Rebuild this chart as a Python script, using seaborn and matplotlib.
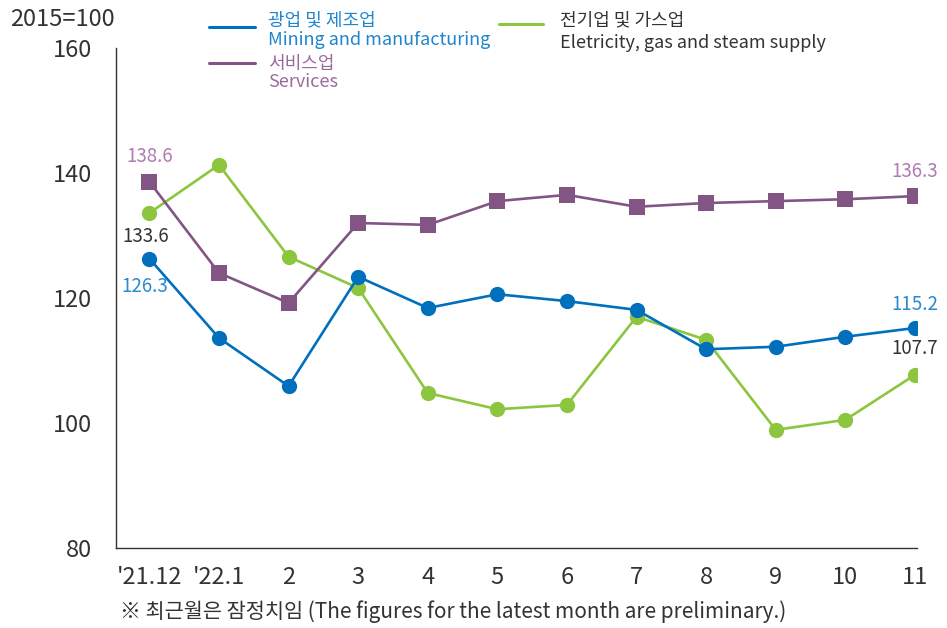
import numpy as np
import pandas as pd
import seaborn as sns
import matplotlib
matplotlib.use("Agg")
from matplotlib import pyplot as plt
from matplotlib.lines import Line2D

months = ["'21.12", "'22.1", "2", "3", "4", "5", "6", "7", "8", "9", "10", "11"]
mining = [126.3, 113.6, 105.9, 123.4, 118.4, 120.6, 119.5, 118.1, 111.8, 112.2, 113.8, 115.2]
electricity = [133.6, 141.3, 126.6, 121.6, 104.8, 102.2, 102.9, 117.0, 113.3, 98.9, 100.5, 107.7]
services = [138.6, 124.0, 119.2, 132.0, 131.7, 135.5, 136.5, 134.6, 135.2, 135.5, 135.8, 136.3]

BLUE = "#0070BD"
GREEN = "#8CC63E"
PURPLE = "#835585"
DARK = "#333333"

sns.set_style("white")
plt.rcParams['font.family'] = ['Noto Sans CJK KR', 'DejaVu Sans']

df = pd.DataFrame({
    "idx": list(range(len(months))) * 3,
    "value": electricity + services + mining,
    "series": ["electricity"] * 12 + ["services"] * 12 + ["mining"] * 12,
})

fig = plt.figure(figsize=(9.47, 6.28), dpi=100)
ax = fig.add_axes([116 / 947, 1 - 548 / 628, (917 - 116) / 947, 500 / 628])

sns.lineplot(data=df, x="idx", y="value", hue="series", style="series",
             hue_order=["electricity", "services", "mining"],
             style_order=["electricity", "services", "mining"],
             palette={"electricity": GREEN, "services": PURPLE, "mining": BLUE},
             markers={"electricity": "o", "services": "s", "mining": "o"},
             dashes=False, linewidth=1.9, markersize=11, markeredgewidth=0,
             legend=False, ax=ax)

ax.set_xlim(-0.48, 11.03)
ax.set_ylim(80, 160)
ax.set_yticks([80, 100, 120, 140, 160])
ax.set_xticks(range(len(months)))
ax.set_xticklabels(months)
ax.set_xlabel("")
ax.set_ylabel("")
for s in ["top", "right"]:
    ax.spines[s].set_visible(False)
for s in ["left", "bottom"]:
    ax.spines[s].set_color(DARK)
    ax.spines[s].set_linewidth(1.0)
ax.tick_params(axis="x", direction="in", length=8, width=1, color=DARK,
               labelsize=17, labelcolor=DARK, pad=13)
ax.tick_params(axis="y", direction="in", length=10, width=1, color=DARK,
               labelsize=17, labelcolor=DARK, pad=17)

# value labels
def lab(i, v, text, color, dx, dy):
    ax.annotate(text, (i, v), xytext=(dx, dy), textcoords="offset points",
                ha="center", va="center", fontsize=13.5, color=color)

lab(0, services[0], f"{services[0]:.1f}", "#B07AB2", 0, 18)
lab(0, electricity[0], f"{electricity[0]:.1f}", DARK, -3, -17)
lab(0, mining[0], f"{mining[0]:.1f}", "#2A8AD0", -3, -20)
lab(11, services[-1], f"{services[-1]:.1f}", "#B07AB2", 0, 18)
lab(11, mining[-1], f"{mining[-1]:.1f}", "#2A8AD0", 0, 17)
lab(11, electricity[-1], f"{electricity[-1]:.1f}", DARK, 0, 19)

# header and legend
fig.text(10 / 947, 1 - 19 / 628, "2015=100", fontsize=17, color=DARK, va="center")

def leg(x0, x1, y, color, tx, ko, en, tcolor, ky, ey):
    fig.add_artist(Line2D([x0 / 947, x1 / 947], [1 - y / 628, 1 - y / 628],
                          color=color, linewidth=2.2))
    fig.text(tx / 947, 1 - ky / 628, ko, fontsize=13, color=tcolor, va="center")
    fig.text(tx / 947, 1 - ey / 628, en, fontsize=13, color=tcolor, va="center")

leg(209, 255, 27, BLUE, 268, "광업 및 제조업", "Mining and manufacturing", "#1F86CE", 20, 40)
leg(209, 255, 63, PURPLE, 268, "서비스업", "Services", "#9B6A9D", 64, 82)
leg(499, 543, 24, GREEN, 560, "전기업 및 가스업", "Eletricity, gas and steam supply", DARK, 20, 43)

fig.text(120 / 947, 1 - 612 / 628,
         "※ 최근월은 잠정치임 (The figures for the latest month are preliminary.)",
         fontsize=15, color=DARK, va="center")

fig.savefig("out.png", dpi=100)
